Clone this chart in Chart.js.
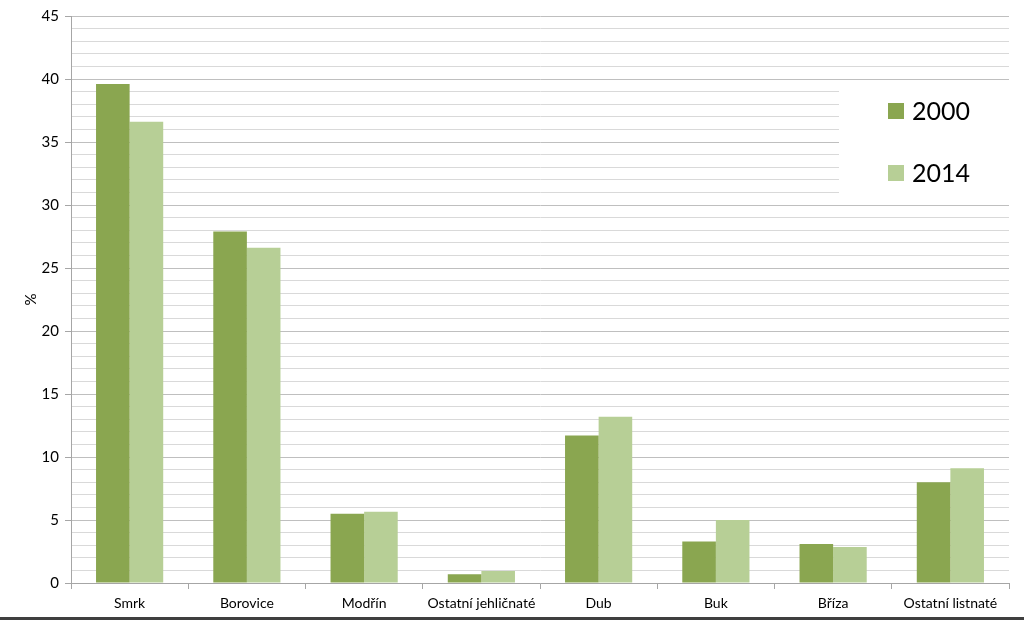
<!DOCTYPE html>
<html><head><meta charset="utf-8">
<script src="https://cdn.jsdelivr.net/npm/chart.js@4"></script>
<style>html,body{margin:0;padding:0;background:#fff;}#wrap{width:1024px;height:621px;position:relative;}</style>
</head><body><div id="wrap"><canvas id="c" width="1024" height="621"></canvas></div>
<script>
const categories = ["Smrk","Borovice","Modřín","Ostatní jehličnaté","Dub","Buk","Bříza","Ostatní listnaté"];
const series2000 = [39.6, 27.9, 5.5, 0.7, 11.7, 3.3, 3.1, 8.0];
const series2014 = [36.6, 26.6, 5.65, 0.95, 13.2, 5.0, 2.85, 9.1];
const seriesLabels = ["2000","2014"];
const seriesColors = ["#8AA650","#B7CF96"];
const yMax = 45;

const legendPlugin = {
  id: 'boxLegend',
  afterDatasetsDraw(chart) {
    const ctx = chart.ctx;
    const ca = chart.chartArea;
    const x0 = ca.right - 170, y0 = 90, w = 170, h = 103;
    ctx.save();
    ctx.fillStyle = '#ffffff';
    ctx.fillRect(x0, y0, w, h);
    chart.data.datasets.forEach((ds, i) => {
      const cy = 111 + i * 62;
      ctx.fillStyle = ds.backgroundColor;
      ctx.fillRect(x0 + 49, cy - 8, 16, 16);
      ctx.fillStyle = '#000';
      ctx.font = '25px Lato, "Open Sans", sans-serif';
      ctx.textBaseline = 'middle';
      ctx.fillText(ds.label, x0 + 73, cy + 1);
    });
    ctx.restore();
  }
};
const borderPlugin = {
  id: 'bottomBorder',
  afterDraw(chart) {
    const ctx = chart.ctx;
    ctx.save();
    ctx.fillStyle = '#3f3f3f';
    ctx.fillRect(0, 617, 1024, 3);
    ctx.restore();
  }
};

new Chart(document.getElementById('c'), {
  type: 'bar',
  data: {
    labels: categories,
    datasets: [
      {label: seriesLabels[0], data: series2000, backgroundColor: seriesColors[0]},
      {label: seriesLabels[1], data: series2014, backgroundColor: seriesColors[1]}
    ]
  },
  options: {
    responsive: false,
    animation: false,
    devicePixelRatio: 1,
    layout: {padding: {left: 22, right: 15, top: 16, bottom: 0}},
    plugins: {legend: {display: false}, tooltip: {enabled: false}},
    datasets: {bar: {categoryPercentage: 0.573, barPercentage: 1.0}},
    scales: {
      x: {
        grid: {display: true, drawOnChartArea: false, offset: true, tickLength: 6, color: '#a6a6a6'},
        border: {color: '#a6a6a6', width: 1},
        ticks: {color: '#000', font: {family: 'Lato, "Open Sans", sans-serif', size: 14}, padding: 6, maxRotation: 0, autoSkip: false},
        afterFit(s) { s.height = 38; }
      },
      y: {
        min: 0, max: yMax,
        grid: {
          color: (c) => (c.tick && c.tick.value % 5 === 0) ? '#bfbfbf' : '#d9d9d9',
          tickColor: (c) => (c.tick && c.tick.value % 5 === 0) ? '#a6a6a6' : 'rgba(0,0,0,0)',
          tickLength: 6, lineWidth: 1
        },
        border: {color: '#a6a6a6', width: 1},
        title: {display: true, text: '%', color: '#000', font: {family: 'Lato, "Open Sans", sans-serif', size: 15}, padding: {top: 0, bottom: 0}},
        ticks: {
          stepSize: 1, autoSkip: false, color: '#000',
          font: {family: 'Lato, "Open Sans", sans-serif', size: 15},
          padding: 6,
          callback: (v) => (v % 5 === 0) ? String(v) : ''
        },
        afterFit(s) { s.width = 49; }
      }
    }
  },
  plugins: [legendPlugin, borderPlugin]
});
</script></body></html>
